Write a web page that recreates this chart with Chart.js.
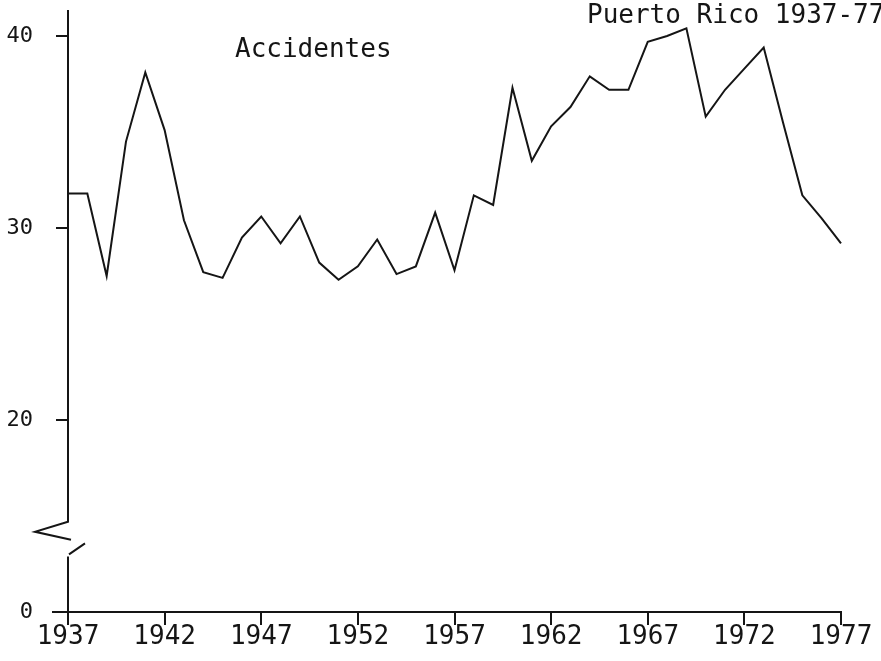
<!DOCTYPE html>
<html>
<head>
<meta charset="utf-8">
<script src="https://cdn.jsdelivr.net/npm/chart.js@4"></script>
<style>
  html, body { margin: 0; padding: 0; background: #fff; }
  canvas { display: block; }
</style>
</head>
<body>
<canvas id="accidentsChart" width="881" height="661"></canvas>
<script>
// Accidentes, Puerto Rico 1937-77 (rate)
const years = [];
for (let y = 1937; y <= 1977; y++) years.push(y);

const accidentes = [
    31.8, 31.8, 27.5, 34.5, 38.1, 35.1, 30.4, 27.7, 27.4, 29.5,
    30.6, 29.2, 30.6, 28.2, 27.3, 28.0, 29.4, 27.6, 28.0, 30.8,
    27.8, 31.7, 31.2, 37.3, 33.5, 35.3, 36.3, 37.9, 37.2, 37.2,
    39.7, 40.0, 40.4, 35.8, 37.2, 38.3, 39.4, 35.5, 31.7, 30.5,
    29.2
];

// the y axis is broken: the bottom tick stands for 0
const yTickValues = [10, 20, 30, 40];
const yTickLabels = ['0', '20', '30', '40'];
const xLabelStep = 5;

const INK = '#151515';
const FONT = '"DejaVu Sans Mono", monospace';

// draws the broken y axis, the x axis stub and the two captions
const axisDecor = {
    id: 'axisDecor',
    afterDraw(chart) {
        const { ctx, chartArea, scales } = chart;
        const x0 = chartArea.left;
        const yTop = chartArea.top + 10;
        const yBreakTop = scales.y.getPixelForValue(14.7);
        const yBreakBottom = scales.y.getPixelForValue(13.0);
        const yBottom = scales.y.getPixelForValue(10);

        ctx.save();
        ctx.strokeStyle = INK;
        ctx.lineWidth = 2;
        ctx.beginPath();
        ctx.moveTo(x0, yTop);
        ctx.lineTo(x0, yBreakTop);
        ctx.lineTo(x0 - 33, yBreakTop + 10);
        ctx.lineTo(x0 + 3, yBreakTop + 18);
        ctx.moveTo(x0 + 1, yBreakBottom);
        ctx.lineTo(x0 + 17, yBreakBottom - 11);
        ctx.moveTo(x0, yBreakBottom + 2);
        ctx.lineTo(x0, yBottom + 13);
        // x axis runs a bit left of the y axis
        ctx.moveTo(x0 - 16, yBottom);
        ctx.lineTo(x0, yBottom);
        ctx.stroke();

        ctx.fillStyle = INK;
        ctx.font = '26px ' + FONT;
        ctx.textBaseline = 'alphabetic';
        ctx.fillText('Accidentes', 235, 57);
        ctx.fillText('Puerto Rico 1937-77', 587, 23);
        ctx.restore();
    }
};

const ctx = document.getElementById('accidentsChart');
const chart = new Chart(ctx, {
    type: 'line',
    data: {
        labels: years,
        datasets: [{
            label: 'Accidentes',
            data: accidentes,
            borderColor: INK,
            borderWidth: 2,
            pointRadius: 0,
            tension: 0,
            fill: false
        }]
    },
    options: {
        responsive: false,
        animation: false,
        devicePixelRatio: 1,
        layout: { padding: { top: 0, right: 40, bottom: 0, left: 0 } },
        plugins: {
            legend: { display: false },
            tooltip: { enabled: false }
        },
        scales: {
            x: {
                type: 'category',
                offset: false,
                afterFit(scale) {
                    scale.height = 49;
                    scale.paddingLeft = 0;
                    scale.paddingRight = 0;
                },
                border: { display: true, color: INK, width: 2 },
                grid: {
                    drawOnChartArea: false,
                    drawTicks: true,
                    tickLength: 13,
                    lineWidth: 2,
                    color: (c) => (c.index % xLabelStep === 0 && c.index > 0 ? INK : 'rgba(0,0,0,0)')
                },
                ticks: {
                    autoSkip: false,
                    maxRotation: 0,
                    padding: -3,
                    color: INK,
                    font: { family: FONT, size: 26 },
                    callback(value, index) {
                        return index % xLabelStep === 0 ? String(years[index]) : '';
                    }
                }
            },
            y: {
                min: 10,
                max: 41.875,
                afterFit(scale) {
                    scale.width = 68;
                    scale.paddingTop = 0;
                    scale.paddingBottom = 0;
                },
                afterBuildTicks(scale) {
                    scale.ticks = yTickValues.map(v => ({ value: v }));
                },
                border: { display: false },
                grid: {
                    drawOnChartArea: false,
                    drawTicks: true,
                    tickLength: 12,
                    lineWidth: 2,
                    color: (c) => (c.tick && c.tick.value === 10 ? 'rgba(0,0,0,0)' : INK)
                },
                ticks: {
                    padding: 23,
                    color: INK,
                    font: { family: FONT, size: 22 },
                    callback(value) {
                        const i = yTickValues.indexOf(value);
                        return i >= 0 ? yTickLabels[i] : '';
                    }
                }
            }
        }
    },
    plugins: [axisDecor]
});
</script>
</body>
</html>
